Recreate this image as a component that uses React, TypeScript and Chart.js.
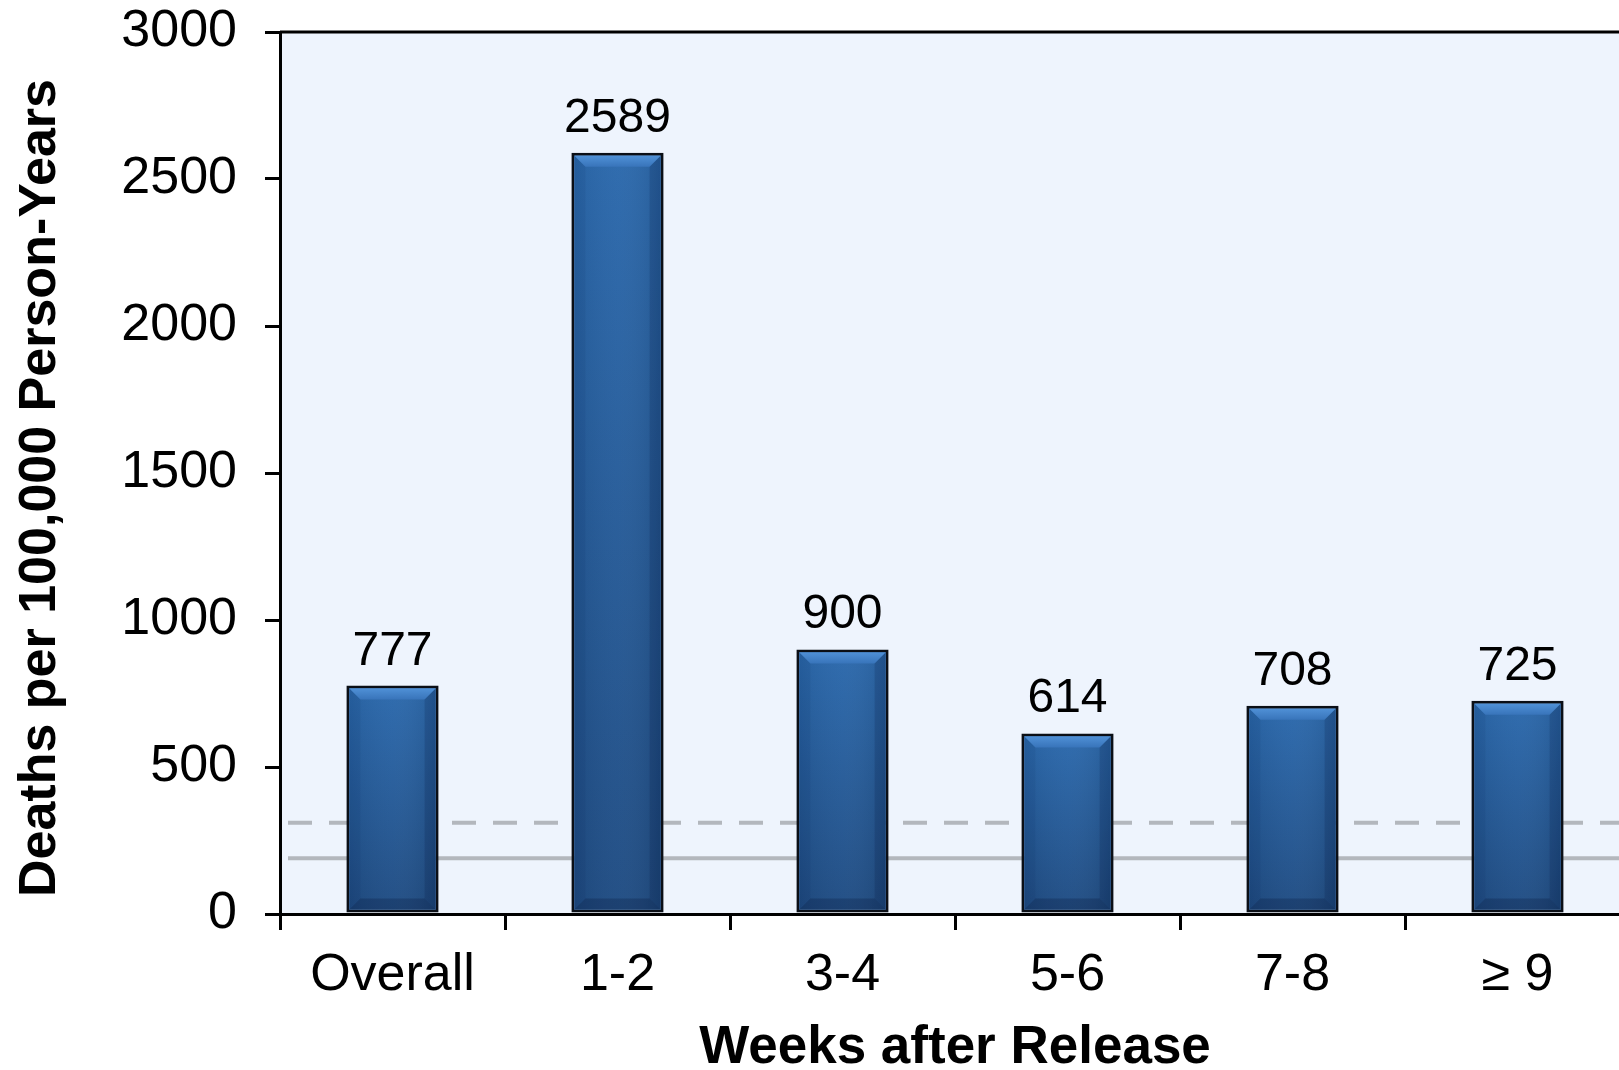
import React, { useEffect, useRef } from "react";
import { Chart, registerables } from "chart.js";

Chart.register(...registerables);

const CATEGORIES = ["Overall", "1-2", "3-4", "5-6", "7-8", "≥ 9"];
const DEATH_RATES = [777, 2589, 900, 614, 708, 725];
const Y_MIN = 0;
const Y_MAX = 3000;
const Y_STEP = 500;
const REF_DASHED = 310;
const REF_SOLID = 190;
const Y_TITLE = "Deaths per 100,000 Person-Years";
const X_TITLE = "Weeks after Release";

const FONT = "'Liberation Sans', Arial, Helvetica, sans-serif";
const PLOT_BG = "#EEF4FD";
const REF_COLOR = "#B3B7BD";

const plotBgPlugin = {
  id: "plotBg",
  beforeDraw(chart: any) {
    const { ctx, chartArea } = chart;
    if (!chartArea) return;
    ctx.save();
    ctx.fillStyle = PLOT_BG;
    ctx.fillRect(chartArea.left, chartArea.top, chartArea.right - chartArea.left, chartArea.bottom - chartArea.top);
    ctx.restore();
  },
  afterDraw(chart: any) {
    const { ctx, chartArea } = chart;
    ctx.save();
    ctx.strokeStyle = "#000";
    ctx.lineWidth = 3;
    ctx.beginPath();
    ctx.moveTo(chartArea.left, chartArea.top);
    ctx.lineTo(chartArea.right, chartArea.top);
    ctx.stroke();
    // y-axis title, centred slightly below the plot's middle as in the reference
    ctx.translate(41, chartArea.top + (chartArea.bottom - chartArea.top) / 2 + 15);
    ctx.rotate(-Math.PI / 2);
    ctx.font = `bold 52px ${FONT}`;
    ctx.fillStyle = "#000";
    ctx.textAlign = "center";
    ctx.textBaseline = "middle";
    ctx.fillText(Y_TITLE, 0, 0);
    ctx.restore();
  },
};

const refLinesPlugin = {
  id: "refLines",
  beforeDatasetsDraw(chart: any) {
    const { ctx, chartArea, scales } = chart;
    const yD = scales.y.getPixelForValue(REF_DASHED);
    const yS = scales.y.getPixelForValue(REF_SOLID);
    ctx.save();
    ctx.strokeStyle = REF_COLOR;
    ctx.lineWidth = 4;
    ctx.setLineDash([24, 17]);
    ctx.beginPath();
    ctx.moveTo(chartArea.left + 8, yD);
    ctx.lineTo(chartArea.right, yD);
    ctx.stroke();
    ctx.setLineDash([]);
    ctx.beginPath();
    ctx.moveTo(chartArea.left + 8, yS);
    ctx.lineTo(chartArea.right, yS);
    ctx.stroke();
    ctx.restore();
  },
};

function poly(ctx: any, pts: number[][], fill: any) {
  ctx.beginPath();
  ctx.moveTo(pts[0][0], pts[0][1]);
  for (let i = 1; i < pts.length; i++) ctx.lineTo(pts[i][0], pts[i][1]);
  ctx.closePath();
  ctx.fillStyle = fill;
  ctx.fill();
}

const bevelPlugin = {
  id: "bevel",
  afterDatasetDraw(chart: any, args: any) {
    const ctx = chart.ctx;
    const bw = 3;
    args.meta.data.forEach((el: any) => {
      const { x, y, base, width } = el.getProps(["x", "y", "base", "width"], true);
      const l = x - width / 2 + bw;
      const r = x + width / 2 - bw;
      const t = y + bw;
      const b = base - bw;
      const w = r - l;
      const h = b - t;
      ctx.save();
      const g = ctx.createLinearGradient(0, t, 0, b);
      g.addColorStop(0, "#2A68AC");
      g.addColorStop(1, "#1E4B82");
      ctx.fillStyle = g;
      ctx.fillRect(l, t, w, h);
      const hg = ctx.createLinearGradient(l, 0, r, 0);
      hg.addColorStop(0, "rgba(0,0,0,0.06)");
      hg.addColorStop(0.5, "rgba(255,255,255,0.03)");
      hg.addColorStop(1, "rgba(0,0,0,0.10)");
      ctx.fillStyle = hg;
      ctx.fillRect(l, t, w, h);
      const s = Math.min(11, h / 2);
      const tg = ctx.createLinearGradient(0, t, 0, t + s);
      tg.addColorStop(0, "#4F90D6");
      tg.addColorStop(1, "#3874BA");
      poly(ctx, [[l, t], [r, t], [r - s, t + s], [l + s, t + s]], tg);
      poly(ctx, [[l, t], [l + s, t + s], [l + s, b - s], [l, b]], "rgba(0,20,60,0.06)");
      poly(ctx, [[r, t], [r - s, t + s], [r - s, b - s], [r, b]], "rgba(0,10,40,0.14)");
      poly(ctx, [[l, b], [l + s, b - s], [r - s, b - s], [r, b]], "rgba(0,10,40,0.22)");
      ctx.restore();
    });
  },
};

const valueLabelPlugin = {
  id: "valueLabels",
  afterDatasetsDraw(chart: any) {
    const ctx = chart.ctx;
    const meta = chart.getDatasetMeta(0);
    ctx.save();
    ctx.font = `48px ${FONT}`;
    ctx.fillStyle = "#000";
    ctx.textAlign = "center";
    ctx.textBaseline = "alphabetic";
    meta.data.forEach((el: any, i: number) => {
      const { x, y } = el.getProps(["x", "y"], true);
      ctx.fillText(String(DEATH_RATES[i]), x, y - 21);
    });
    ctx.restore();
  },
};

export default function App() {
  const canvasRef = useRef<HTMLCanvasElement | null>(null);

  useEffect(() => {
    document.body.style.margin = "0";
    const canvas = canvasRef.current;
    if (!canvas) return;
    const chart = new Chart(canvas, {
      type: "bar",
      data: {
        labels: CATEGORIES,
        datasets: [
          {
            data: DEATH_RATES,
            backgroundColor: "#2560A3",
            borderColor: "#0B0F16",
            borderWidth: 3,
            borderSkipped: false,
            barPercentage: 0.41,
            categoryPercentage: 1,
          },
        ],
      },
      options: {
        responsive: false,
        animation: false,
        devicePixelRatio: 1,
        layout: { padding: { top: 0, right: 10, left: 0, bottom: 0 } },
        plugins: {
          legend: { display: false },
          tooltip: { enabled: false },
          title: { display: false },
        },
        scales: {
          x: {
            type: "category",
            grid: {
              offset: true,
              drawOnChartArea: false,
              drawTicks: true,
              tickLength: 16,
              color: "#000",
              lineWidth: 3,
            },
            border: { display: true, color: "#000", width: 3 },
            ticks: {
              color: "#000",
              font: { family: FONT, size: 52 },
              padding: 14,
              autoSkip: false,
              maxRotation: 0,
              minRotation: 0,
            },
            title: {
              display: true,
              text: X_TITLE,
              color: "#000",
              font: { family: FONT, size: 53, weight: "bold", lineHeight: 0.8 },
              padding: { top: 0, bottom: 0 },
            },
            afterFit(scale: any) {
              scale.height = 156;
            },
          },
          y: {
            type: "linear",
            min: Y_MIN,
            max: Y_MAX,
            ticks: {
              stepSize: Y_STEP,
              color: "#000",
              font: { family: FONT, size: 52, lineHeight: 1.2 },
              padding: 28,
              callback: (v: any) => String(v),
            },
            grid: {
              drawOnChartArea: false,
              drawTicks: true,
              tickLength: 15,
              color: "#000",
              lineWidth: 3,
            },
            border: { display: true, color: "#000", width: 3 },
            title: { display: false, text: Y_TITLE },
            afterFit(scale: any) {
              scale.width = 280;
              scale.paddingTop = 32;
              scale.paddingBottom = 0;
            },
          },
        },
      },
      plugins: [plotBgPlugin, refLinesPlugin, bevelPlugin, valueLabelPlugin],
    } as any);
    return () => chart.destroy();
  }, []);

  return (
    <div style={{ width: 1619, height: 1070, overflow: "hidden", position: "relative", background: "#fff" }}>
      <canvas ref={canvasRef} width={1640} height={1070} style={{ display: "block", width: 1640, height: 1070 }} />
    </div>
  );
}
